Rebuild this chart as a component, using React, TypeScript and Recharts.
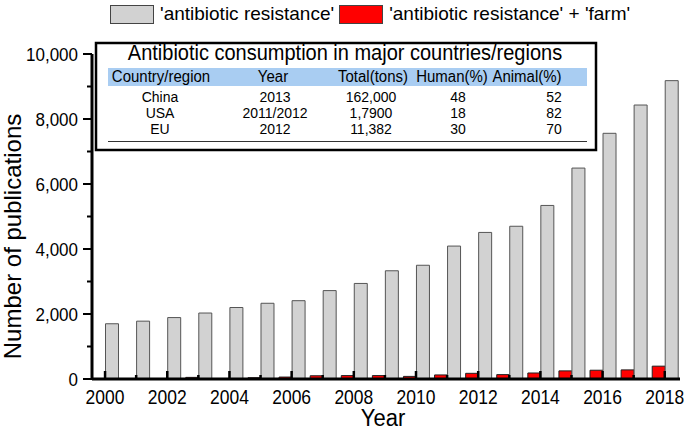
import React from 'react';
import { ComposedChart, Bar, XAxis, YAxis, Legend } from 'recharts';

const years = [2000, 2001, 2002, 2003, 2004, 2005, 2006, 2007, 2008, 2009, 2010, 2011, 2012, 2013, 2014, 2015, 2016, 2017, 2018];
const resistanceCounts = [1700, 1780, 1890, 2030, 2200, 2330, 2410, 2720, 2940, 3330, 3500, 4090, 4510, 4700, 5340, 6490, 7560, 8430, 9180];
const farmCounts = [5, 10, 15, 50, 10, 40, 60, 100, 105, 105, 80, 125, 175, 135, 185, 250, 270, 280, 395];
const yTicks = [0, 1000, 2000, 3000, 4000, 5000, 6000, 7000, 8000, 9000, 10000];
const seriesNames = ["'antibiotic resistance'", "'antibiotic resistance' + 'farm'"];

const tableTitle = 'Antibiotic consumption in major countries/regions';
const tableHeaders = ['Country/region', 'Year', 'Total(tons)', 'Human(%)', 'Animal(%)'];
const tableRows = [
  ['China', '2013', '162,000', '48', '52'],
  ['USA', '2011/2012', '1,7900', '18', '82'],
  ['EU', '2012', '11,382', '30', '70'],
];

const data = years.map((y, i) => ({ year: y, resistance: resistanceCounts[i], farm: farmCounts[i] }));

const FONT = '"Liberation Sans", Arial, sans-serif';
const GREY = '#d2d2d2';
const RED = '#ff0000';

const SText = ({ x, y, sy = 1.1, size, anchor = 'middle', children }: any) => (
  <g transform={`translate(${x} ${y}) scale(1 ${sy})`}>
    <text x={0} y={0} textAnchor={anchor} fontSize={size} fontFamily={FONT} fill="#000">
      {children}
    </text>
  </g>
);

const XTick = (props: any) => {
  const { x, y, payload } = props;
  const v = payload.value;
  const major = v % 2 === 0;
  return (
    <g>
      <line x1={x} x2={x} y1={y} y2={y - (major ? 8 : 4)} stroke="#000" strokeWidth={2.5} />
      {major && (
        <SText x={x} y={y + 25} size={17.5} sy={1.12}>
          {v}
        </SText>
      )}
    </g>
  );
};

const YTick = (props: any) => {
  const { x, y, payload } = props;
  const v = payload.value;
  const major = v % 2000 === 0;
  return (
    <g>
      <line x1={x} x2={x - (major ? 9 : 5)} y1={y} y2={y} stroke="#000" strokeWidth={2} />
      {major && (
        <SText x={x - 14} y={y + 6.5} size={17} sy={1.1} anchor="end">
          {v.toLocaleString('en-US')}
        </SText>
      )}
    </g>
  );
};

const YLabel = (props: any) => {
  const vb = props.viewBox;
  const cx = vb.x + 13;
  const cy = vb.y + vb.height / 2 + 20;
  return (
    <text x={cx} y={cy} dy="0.35em" transform={`rotate(-90 ${cx} ${cy})`} textAnchor="middle" fontSize={24} fill="#000" fontFamily={FONT}>
      Number of publications
    </text>
  );
};

const XLabel = (props: any) => {
  const vb = props.viewBox;
  const cx = vb.x + vb.width / 2 - 3;
  return (
    <SText x={cx} y={vb.y + 47} size={22} sy={1.05}>
      Year
    </SText>
  );
};

const LegendContent = () => {
  const items = [
    { name: seriesNames[0], color: GREY },
    { name: seriesNames[1], color: RED },
  ];
  return (
    <div style={{ display: 'flex', alignItems: 'center', fontFamily: FONT, fontSize: 19, color: '#000' }}>
      {items.map((it, i) => (
        <div key={i} style={{ display: 'flex', alignItems: 'center', marginRight: 5 }}>
          <div style={{ width: 42, height: 17, background: it.color, border: '1px solid #444', marginRight: 6 }} />
          <span style={{ whiteSpace: 'nowrap' }}>{it.name}</span>
        </div>
      ))}
    </div>
  );
};

const colHeaderX = [161, 273, 373, 452, 527];
const colValueX = [160, 275, 371, 458, 554];
const rowY = [102, 118, 134];

export default function App() {
  return (
    <div style={{ position: 'absolute', left: 0, top: 0, width: 684, height: 432, background: '#fff', fontFamily: FONT }}>
      <ComposedChart width={684} height={432} data={data} margin={{ top: 32, right: 4, bottom: 0, left: 0 }} barGap={0}>
        <Legend verticalAlign="top" content={<LegendContent />} wrapperStyle={{ position: 'absolute', top: 3, left: 110, width: 600 }} />
        <Bar dataKey="farm" name={seriesNames[1]} fill={RED} stroke="#222" strokeWidth={1} barSize={13} isAnimationActive={false} />
        <Bar dataKey="resistance" name={seriesNames[0]} fill={GREY} stroke="#555" strokeWidth={1} barSize={13} isAnimationActive={false} />
        <XAxis
          dataKey="year"
          type="number"
          domain={[1999.58, 2018.49]}
          ticks={years}
          interval={0}
          allowDataOverflow
          tick={<XTick />}
          tickLine={false}
          tickSize={0}
          tickMargin={0}
          axisLine={{ stroke: '#000', strokeWidth: 3 }}
          height={53}
          label={<XLabel />}
        />
        <XAxis
          xAxisId="top"
          orientation="top"
          type="number"
          domain={[1999.58, 2018.49]}
          tick={false}
          tickLine={false}
          axisLine={{ stroke: '#000', strokeWidth: 3 }}
          height={0}
        />
        <YAxis
          type="number"
          domain={[0, 10000]}
          ticks={yTicks}
          interval={0}
          tick={<YTick />}
          tickLine={false}
          tickSize={0}
          tickMargin={0}
          axisLine={{ stroke: '#000', strokeWidth: 3 }}
          width={92}
          label={<YLabel />}
        />
        <YAxis
          yAxisId="right"
          orientation="right"
          type="number"
          domain={[0, 10000]}
          tick={false}
          tickLine={false}
          axisLine={{ stroke: '#000', strokeWidth: 3 }}
          width={0}
        />
      </ComposedChart>
      <svg width={684} height={432} style={{ position: 'absolute', left: 0, top: 0, pointerEvents: 'none' }}>
        <rect x={96} y={43} width={500} height={107} fill="#fff" stroke="#000" strokeWidth={2.5} />
        <SText x={345} y={60} size={20} sy={1.08}>
          {tableTitle}
        </SText>
        <rect x={108} y={68} width={479} height={18} fill="#a9cdf2" />
        {tableHeaders.map((h, i) => (
          <SText key={h} x={colHeaderX[i]} y={82} size={15} sy={1.08}>
            {h}
          </SText>
        ))}
        {tableRows.map((row, r) =>
          row.map((c, i) => (
            <SText key={`${r}-${i}`} x={colValueX[i]} y={rowY[r]} size={14} sy={1.1}>
              {c}
            </SText>
          ))
        )}
        <line x1={108} x2={587} y1={141.5} y2={141.5} stroke="#333" strokeWidth={1} />
      </svg>
    </div>
  );
}
